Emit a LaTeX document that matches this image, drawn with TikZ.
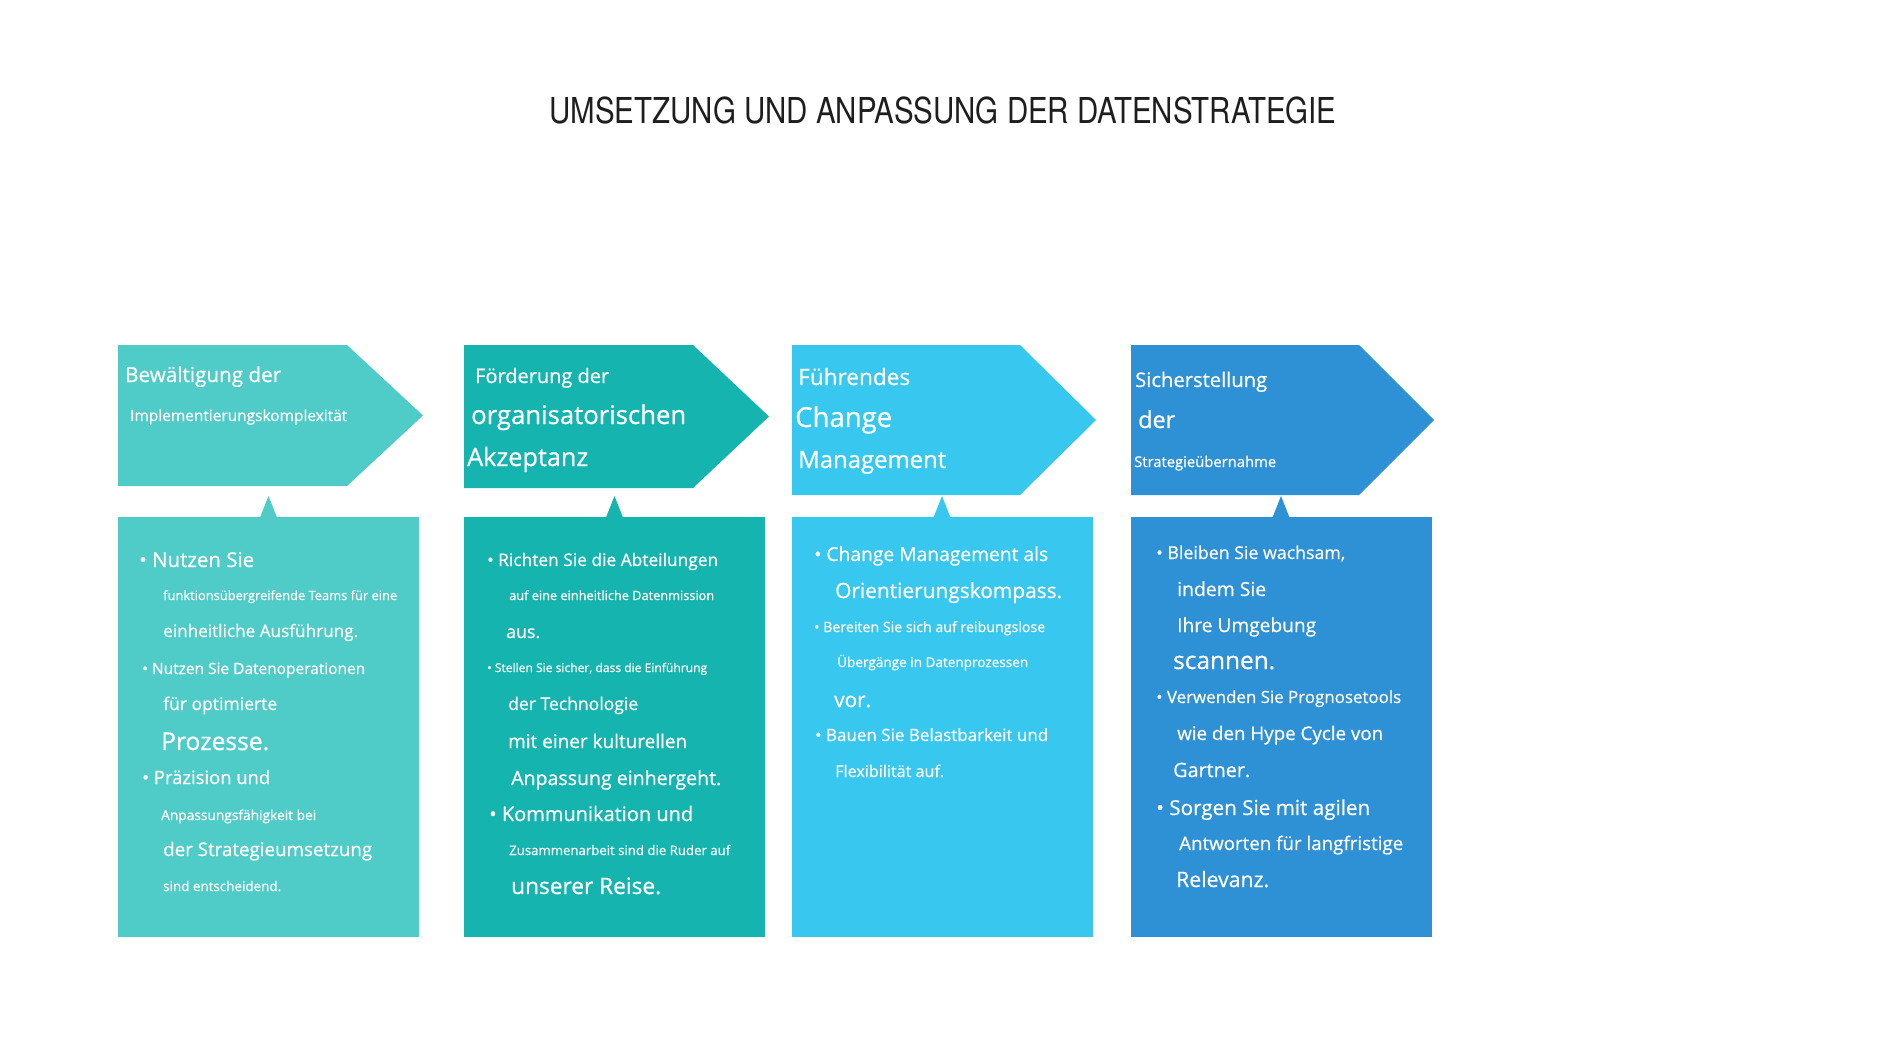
\documentclass[tikz,border=0pt]{standalone}
\usepackage{fontspec}
\usepackage{graphicx}
\setmainfont{Open Sans}[UprightFeatures={FakeBold=0.6}]
\newfontfamily\titlefont[FakeStretch=0.825]{TeX Gyre Heros}
\definecolor{boxone}{HTML}{50CCC8}
\definecolor{boxtwo}{HTML}{16B4AE}
\definecolor{boxthree}{HTML}{38C7EF}
\definecolor{boxfour}{HTML}{2E90D5}
\definecolor{titlegray}{HTML}{1E1E1E}

\begin{document}
\begin{tikzpicture}[x=1pt, y=-1pt,
    txt/.style={anchor=base west, inner sep=0pt, text=white, font=\fontsize{20pt}{24pt}\selectfont},
    bodybox/.style={minimum width=301pt, minimum height=420pt, inner sep=0pt, anchor=north}]
                        \fill[white] (0, 0) rectangle (1884, 1060);
                        \useasboundingbox (0, 0) rectangle (1884, 1060);
                        \node[anchor=base, inner sep=0pt, text=titlegray, font=\titlefont\fontsize{35.7pt}{40pt}\selectfont] (title) at (943, 123){UMSETZUNG UND ANPASSUNG DER DATENSTRATEGIE};
                        % headers
                        \fill[boxone] (118, 345) -- (347, 345) -- (423, 415.5) -- (347, 486) -- (118, 486) -- cycle;
                        \fill[boxtwo] (464, 345) -- (693, 345) -- (769, 416.5) -- (693, 488) -- (464, 488) -- cycle;
                        \fill[boxthree] (792, 345) -- (1020, 345) -- (1096, 420) -- (1020, 495) -- (792, 495) -- cycle;
                        \fill[boxfour] (1131, 345) -- (1359, 345) -- (1434, 420) -- (1359, 495) -- (1131, 495) -- cycle;
                        % bodies
                        \node[bodybox, fill=boxone] (body1) at (268.5, 517){};
                        \node[bodybox, fill=boxtwo] (body2) at (614.5, 517){};
                        \node[bodybox, fill=boxthree] (body3) at (942, 517){};
                        \node[bodybox, fill=boxfour] (body4) at (1281, 517){};
                        \fill[boxone] (body1.north) ++(-8.5, 0.5) -- ++(8.5, -21.5) -- ++(8.5, 21.5) -- cycle;
                        \fill[boxtwo] (body2.north) ++(-8.5, 0.5) -- ++(8.5, -21.5) -- ++(8.5, 21.5) -- cycle;
                        \fill[boxthree] (body3.north) ++(-8.5, 0.5) -- ++(8.5, -21.5) -- ++(8.5, 21.5) -- cycle;
                        \fill[boxfour] (body4.north) ++(-8.5, 0.5) -- ++(8.5, -21.5) -- ++(8.5, 21.5) -- cycle;
                        % header texts
                        \node[txt] (h1a) at (125, 382){\resizebox{156pt}{!}{Bewältigung der}};
                        \node[txt] (h1b) at (130, 421){\resizebox{217pt}{!}{Implementierungskomplexität}};
                        \node[txt] (h2a) at (475, 383){\resizebox{134pt}{!}{Förderung der}};
                        \node[txt] (h2b) at (471, 424){\resizebox{215pt}{!}{organisatorischen}};
                        \node[txt] (h2c) at (467, 466){\resizebox{121pt}{!}{Akzeptanz}};
                        \node[txt] (h3a) at (798, 385){\resizebox{112pt}{!}{Führendes}};
                        \node[txt] (h3b) at (795, 427){\resizebox{97pt}{!}{Change}};
                        \node[txt] (h3c) at (798, 468){\resizebox{148pt}{!}{Management}};
                        \node[txt] (h4a) at (1135, 387){\resizebox{132pt}{!}{Sicherstellung}};
                        \node[txt] (h4b) at (1138, 428){\resizebox{37pt}{!}{der}};
                        \node[txt] (h4c) at (1134, 467){\resizebox{142pt}{!}{Strategieübernahme}};
                        % first body
                        \node[txt] (p1a) at (139, 567){\resizebox{115pt}{!}{• Nutzen Sie}};
                        \node[txt] (p1b) at (163, 600){\resizebox{234pt}{!}{funktionsübergreifende Teams für eine}};
                        \node[txt] (p1c) at (163, 637){\resizebox{195pt}{!}{einheitliche Ausführung.}};
                        \node[txt] (p1d) at (142, 674){\resizebox{223pt}{!}{• Nutzen Sie Datenoperationen}};
                        \node[txt] (p1e) at (163, 710){\resizebox{114pt}{!}{für optimierte}};
                        \node[txt] (p1f) at (161, 750){\resizebox{108pt}{!}{Prozesse.}};
                        \node[txt] (p1g) at (142, 784){\resizebox{128pt}{!}{• Präzision und}};
                        \node[txt] (p1h) at (161, 820){\resizebox{155pt}{!}{Anpassungsfähigkeit bei}};
                        \node[txt] (p1i) at (163, 856){\resizebox{209pt}{!}{der Strategieumsetzung}};
                        \node[txt] (p1j) at (163, 891){\resizebox{118pt}{!}{sind entscheidend.}};
                        % second body
                        \node[txt] (p2a) at (487, 566){\resizebox{231pt}{!}{• Richten Sie die Abteilungen}};
                        \node[txt] (p2b) at (509, 600){\resizebox{205pt}{!}{auf eine einheitliche Datenmission}};
                        \node[txt] (p2c) at (506, 638){\resizebox{34pt}{!}{aus.}};
                        \node[txt] (p2d) at (487, 672){\resizebox{220pt}{!}{• Stellen Sie sicher, dass die Einführung}};
                        \node[txt] (p2e) at (508, 710){\resizebox{130pt}{!}{der Technologie}};
                        \node[txt] (p2f) at (508, 748){\resizebox{179pt}{!}{mit einer kulturellen}};
                        \node[txt] (p2g) at (511, 785){\resizebox{210pt}{!}{Anpassung einhergeht.}};
                        \node[txt] (p2h) at (489, 821){\resizebox{204pt}{!}{• Kommunikation und}};
                        \node[txt] (p2i) at (509, 855){\resizebox{221pt}{!}{Zusammenarbeit sind die Ruder auf}};
                        \node[txt] (p2j) at (511, 894){\resizebox{150pt}{!}{unserer Reise.}};
                        % third body
                        \node[txt] (p3a) at (814, 561){\resizebox{234pt}{!}{• Change Management als}};
                        \node[txt] (p3b) at (835, 598){\resizebox{227pt}{!}{Orientierungskompass.}};
                        \node[txt] (p3c) at (814, 632){\resizebox{231pt}{!}{• Bereiten Sie sich auf reibungslose}};
                        \node[txt] (p3d) at (837, 667){\resizebox{191pt}{!}{Übergänge in Datenprozessen}};
                        \node[txt] (p3e) at (834, 707){\resizebox{37pt}{!}{vor.}};
                        \node[txt] (p3f) at (815, 741){\resizebox{233pt}{!}{• Bauen Sie Belastbarkeit und}};
                        \node[txt] (p3g) at (835, 777){\resizebox{109pt}{!}{Flexibilität auf.}};
                        % fourth body
                        \node[txt] (p4a) at (1156, 559){\resizebox{189pt}{!}{• Bleiben Sie wachsam,}};
                        \node[txt] (p4b) at (1177, 596){\resizebox{89pt}{!}{indem Sie}};
                        \node[txt] (p4c) at (1177, 632){\resizebox{139pt}{!}{Ihre Umgebung}};
                        \node[txt] (p4d) at (1173, 669){\resizebox{102pt}{!}{scannen.}};
                        \node[txt] (p4e) at (1156, 703){\resizebox{245pt}{!}{• Verwenden Sie Prognosetools}};
                        \node[txt] (p4f) at (1177, 740){\resizebox{206pt}{!}{wie den Hype Cycle von}};
                        \node[txt] (p4g) at (1173, 777){\resizebox{77pt}{!}{Gartner.}};
                        \node[txt] (p4h) at (1156, 815){\resizebox{214pt}{!}{• Sorgen Sie mit agilen}};
                        \node[txt] (p4i) at (1179, 850){\resizebox{224pt}{!}{Antworten für langfristige}};
                        \node[txt] (p4j) at (1176, 887){\resizebox{93pt}{!}{Relevanz.}};
                \end{tikzpicture}
\end{document}
